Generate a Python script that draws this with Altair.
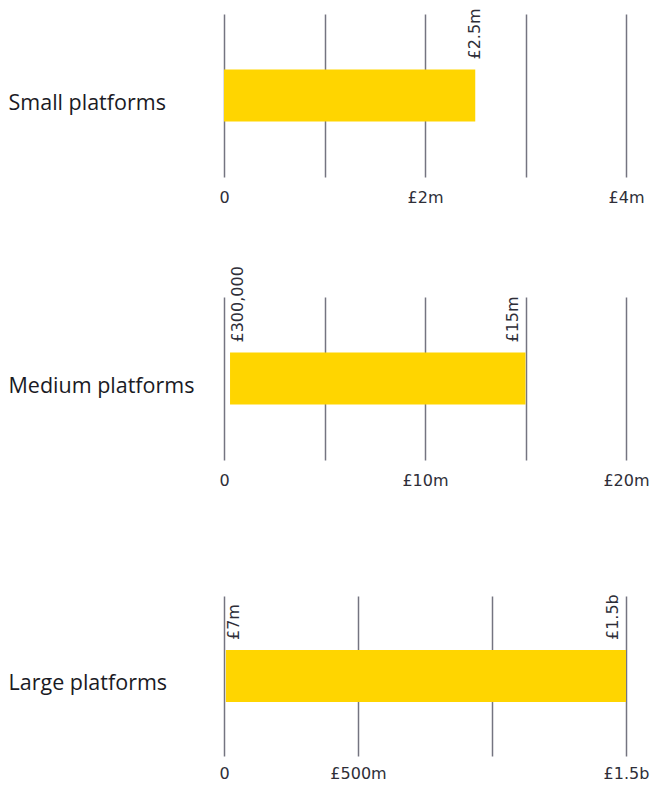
import altair as alt
import pandas as pd

# ---- data (values in £ millions) ----
categories = ["Small platforms", "Medium platforms", "Large platforms"]
range_start = [0, 0.3, 7]
range_end = [2.5, 15, 1500]
start_labels = ["", "£300,000", "£7m"]
end_labels = ["£2.5m", "£15m", "£1.5b"]
axis_max = [4, 20, 1500]
tick_values = [[0, 1, 2, 3, 4], [0, 5, 10, 15, 20], [0, 500, 1000, 1500]]
tick_labels = [
    ["0", "", "£2m", "", "£4m"],
    ["0", "", "£10m", "", "£20m"],
    ["0", "£500m", "", "£1.5b"],
]

YELLOW = "#FFD500"
GRID = "#747480"
TEXT = "#2E2E38"
LABEL = "#1A1A24"
NUM_FONT = "DejaVu Sans"
CAT_FONT = "Open Sans"


def label_expr(vals, labs):
    expr = "''"
    for v, l in reversed(list(zip(vals, labs))):
        expr = f"datum.value == {v} ? '{l}' : ({expr})"
    return expr


def panel(i, end_dy, height=163, label_pad=12):
    df = pd.DataFrame({
        "category": [categories[i]],
        "start": [range_start[i]],
        "end": [range_end[i]],
        "start_label": [start_labels[i]],
        "end_label": [end_labels[i]],
    })
    x_axis = alt.Axis(
        values=tick_values[i],
        labelExpr=label_expr(tick_values[i], tick_labels[i]),
        grid=True, gridColor=GRID, gridWidth=1.5,
        domain=False, ticks=False, labelFlush=False, labelOverlap=False,
        labelPadding=label_pad, labelFontSize=16, labelColor=TEXT, labelFont=NUM_FONT,
        title=None,
    )
    y_axis = alt.Axis(
        title=None, domain=False, ticks=False, labelAlign="left",
        labelPadding=216, labelFontSize=21.5, labelFont=CAT_FONT,
        labelColor=LABEL, labelLimit=0, labelOffset=8,
    )
    xs = alt.Scale(domain=[0, axis_max[i]], nice=False)
    base = alt.Chart(df)
    bar = base.mark_bar(size=52, color=YELLOW).encode(
        x=alt.X("start:Q", scale=xs, axis=x_axis),
        x2="end:Q",
        y=alt.Y("category:N", axis=y_axis),
    )
    start_txt = base.mark_text(
        angle=270, align="left", baseline="top", dx=36,
        fontSize=16, font=NUM_FONT, color=TEXT,
    ).encode(x=alt.X("start:Q", scale=xs), y="category:N", text="start_label:N")
    end_txt = base.mark_text(
        angle=270, align="left", baseline="bottom", dx=36, dy=end_dy,
        fontSize=16, font=NUM_FONT, color=TEXT,
    ).encode(x=alt.X("end:Q", scale=xs), y="category:N", text="end_label:N")
    return alt.layer(bar, start_txt, end_txt).properties(width=402, height=height)


p1 = panel(0, 8)
p2 = panel(1, -5)
p3 = panel(2, -5, height=160, label_pad=9)

inner = alt.vconcat(p1, p2, spacing=120, bounds="flush")
chart = alt.vconcat(inner, p3, spacing=106).properties(
    padding={"left": 0, "top": 0, "right": 0, "bottom": 0}
).configure_view(stroke=None)

chart.save("out.html", embed_options={"renderer": "svg", "actions": False})
